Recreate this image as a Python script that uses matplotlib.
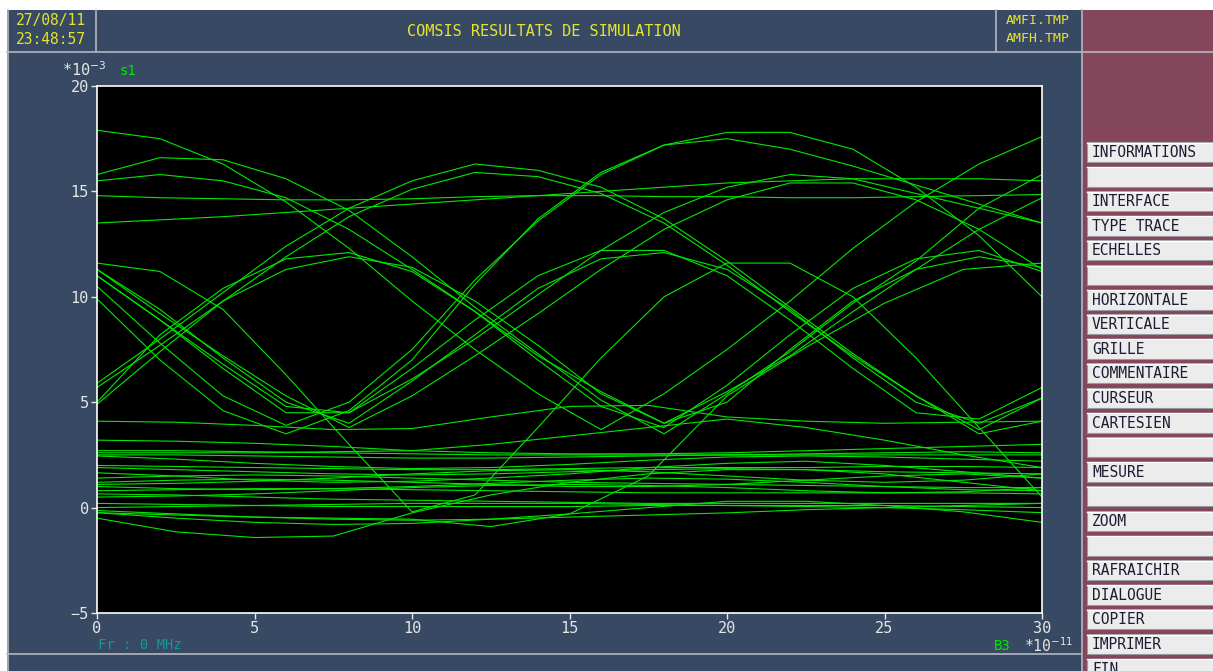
import matplotlib
matplotlib.use("Agg")
import matplotlib.pyplot as plt
import matplotlib.patches as patches

# sample positions (units of 1e-11) for the wide waves and the low bundle
x_wave = [0, 2, 4, 6, 8, 10, 12, 14, 16, 18, 20, 22, 24, 26, 28, 30]
x_flat = [0, 2.5, 5, 7.5, 10, 12.5, 15, 17.5, 20, 22.5, 25, 27.5, 30]

# large swing curves (units of 1e-3)
L1 = [17.9, 17.5, 16.3, 14.5, 12.3, 9.8, 7.5, 5.4, 3.7, 5.4, 7.5, 9.8, 12.3, 14.5, 16.3, 17.6]
L2 = [15.8, 16.6, 16.5, 15.6, 14.1, 11.9, 9.5, 7.3, 5.1, 3.5, 5.4, 7.4, 9.7, 11.7, 14.2, 15.8]
L3 = [15.5, 15.8, 15.5, 14.7, 13.2, 11.3, 9.3, 7.2, 5.5, 4.0, 5.5, 7.2, 9.3, 11.3, 13.2, 14.7]
L4 = [5.9, 8.0, 10.2, 12.4, 14.2, 15.5, 16.3, 16.0, 15.2, 13.7, 11.7, 9.5, 7.3, 5.3, 3.5, 4.1]
L5 = [5.7, 7.7, 9.8, 11.9, 13.8, 15.1, 15.9, 15.7, 14.9, 13.5, 11.5, 9.3, 7.2, 5.3, 3.7, 5.2]
L6 = [10.5, 7.8, 5.3, 3.9, 5.0, 7.5, 10.8, 13.6, 15.8, 17.2, 17.5, 17.0, 16.2, 15.3, 14.4, 13.5]
L7 = [9.9, 7.0, 4.6, 3.5, 4.6, 7.0, 10.6, 13.7, 15.9, 17.2, 17.8, 17.8, 17.0, 15.2, 12.9, 10.0]
L8 = [11.0, 8.9, 6.8, 4.8, 4.5, 6.1, 8.0, 10.1, 12.2, 14.0, 15.2, 15.8, 15.6, 14.9, 14.2, 13.5]
L9 = [11.3, 9.2, 7.2, 5.3, 3.8, 5.3, 7.2, 9.2, 11.3, 13.2, 14.6, 15.4, 15.4, 14.6, 13.2, 11.3]
P4 = [14.8, 14.7, 14.65, 14.6, 14.6, 14.65, 14.75, 14.8, 14.8, 14.75, 14.75, 14.7, 14.7, 14.75, 14.8, 14.85]
P5 = [13.5, 13.65, 13.8, 14.0, 14.2, 14.4, 14.6, 14.8, 15.0, 15.2, 15.4, 15.5, 15.6, 15.6, 15.6, 15.5]

# medium swing curves
M1 = [5.0, 8.2, 10.4, 11.8, 12.1, 11.2, 9.3, 7.0, 4.8, 3.8, 5.8, 8.2, 10.4, 11.8, 12.2, 11.2]
M2 = [4.9, 7.4, 9.8, 11.3, 11.9, 11.4, 9.8, 7.7, 5.4, 4.0, 5.0, 7.5, 9.8, 11.3, 11.9, 11.4]
M3 = [11.0, 8.9, 6.6, 4.5, 4.5, 6.6, 8.9, 11.0, 12.2, 12.2, 11.0, 8.9, 6.6, 4.5, 4.2, 5.7]
M4 = [11.3, 9.4, 7.1, 5.0, 4.0, 6.0, 8.2, 10.4, 11.8, 12.1, 11.3, 9.4, 7.1, 5.0, 4.0, 5.2]
R1 = [11.6, 11.2, 9.4, 6.3, 3.0, -0.2, 0.6, 3.8, 7.1, 10.0, 11.6, 11.6, 10.0, 7.1, 3.8, 0.5]

# low bundle
R2 = [-0.24, -0.35, -0.45, -0.5, -0.55, -0.9, -0.3, 1.5, 5.3, 7.6, 9.7, 11.3, 11.6]
F1 = [4.1, 4.05, 3.9, 3.7, 3.75, 4.3, 4.8, 4.85, 4.3, 4.1, 4.0, 4.05, 4.1]
F2 = [3.2, 3.15, 3.05, 2.9, 2.7, 2.6, 2.55, 2.55, 2.6, 2.7, 2.8, 2.9, 3.0]
F3 = [2.6, 2.6, 2.6, 2.65, 2.7, 3.0, 3.4, 3.8, 4.2, 3.8, 3.2, 2.5, 1.9]
F4 = [2.7, 2.7, 2.65, 2.6, 2.55, 2.5, 2.5, 2.5, 2.5, 2.55, 2.6, 2.65, 2.6]
F5 = [2.5, 2.5, 2.45, 2.4, 2.35, 2.35, 2.4, 2.45, 2.5, 2.5, 2.5, 2.5, 2.5]
F6 = [2.0, 1.95, 1.9, 1.85, 1.8, 1.8, 1.85, 1.9, 1.9, 1.9, 1.95, 1.95, 1.9]
F7 = [1.9, 1.8, 1.7, 1.6, 1.55, 1.6, 1.7, 1.8, 1.85, 1.8, 1.7, 1.65, 1.6]
F8 = [1.65, 1.5, 1.3, 1.2, 1.25, 1.4, 1.6, 1.9, 2.1, 2.2, 2.0, 1.7, 1.4]
F9 = [1.4, 1.5, 1.55, 1.5, 1.4, 1.3, 1.2, 1.15, 1.1, 1.05, 1.0, 0.95, 0.95]
F10 = [1.2, 1.3, 1.35, 1.3, 1.2, 1.1, 1.0, 1.0, 1.1, 1.3, 1.5, 1.6, 1.4]
F11 = [1.0, 0.9, 0.85, 0.9, 1.0, 1.15, 1.3, 1.4, 1.35, 1.2, 1.0, 0.85, 0.8]
F12 = [0.8, 0.85, 0.9, 0.9, 0.85, 0.8, 0.75, 0.7, 0.7, 0.7, 0.7, 0.7, 0.65]
F13 = [0.65, 0.6, 0.5, 0.4, 0.35, 0.3, 0.25, 0.2, 0.2, 0.2, 0.2, 0.2, 0.2]
F14 = [0.2, 0.15, 0.1, 0.05, 0.05, 0.05, 0.05, 0.1, 0.1, 0.1, 0.1, 0.05, 0.0]
F15 = [0.0, 0.05, 0.1, 0.15, 0.2, 0.2, 0.2, 0.15, 0.1, 0.05, 0.0, -0.1, -0.24]
F16 = [-0.14, -0.3, -0.45, -0.55, -0.6, -0.55, -0.45, -0.35, -0.25, -0.1, 0.0, 0.1, 0.2]
F17 = [-0.24, -0.5, -0.7, -0.8, -0.75, -0.55, -0.3, 0.0, 0.3, 0.3, 0.1, -0.2, -0.7]
F18 = [-0.5, -1.15, -1.42, -1.35, -0.25, 0.6, 1.2, 1.6, 1.8, 1.8, 1.6, 1.2, 0.8]
F19 = [2.45, 2.3, 2.1, 1.95, 1.85, 1.9, 2.05, 2.25, 2.4, 2.45, 2.4, 2.3, 2.2]
F20 = [0.5, 0.55, 0.65, 0.8, 0.95, 1.05, 1.1, 1.05, 0.95, 0.8, 0.7, 0.75, 0.95]
F21 = [1.1, 1.15, 1.25, 1.4, 1.6, 1.75, 1.8, 1.7, 1.5, 1.3, 1.2, 1.3, 1.6]

wave_curves = [L1, L2, L3, L4, L5, L6, L7, L8, L9, P4, P5, M1, M2, M3, M4, R1]
flat_curves = [R2, F1, F2, F3, F4, F5, F6, F7, F8, F9, F10, F11, F12, F13, F14,
               F15, F16, F17, F18, F19, F20, F21]

menu_items = ["INFORMATIONS", "", "INTERFACE", "TYPE TRACE", "ECHELLES", "",
              "HORIZONTALE", "VERTICALE", "GRILLE", "COMMENTAIRE", "CURSEUR",
              "CARTESIEN", "", "MESURE", "", "ZOOM", "", "RAFRAICHIR",
              "DIALOGUE", "COPIER", "IMPRIMER", "FIN"]

W, H = 1213, 671
SLATE = "#384a63"
MAROON = "#84465b"
LINE = "#b4b8c0"
YELLOW = "#e4e430"
GREEN = "#00e800"
MONO = "DejaVu Sans Mono"

plt.rcParams["mathtext.fontset"] = "dejavusans"

fig = plt.figure(figsize=(W / 100, H / 100), dpi=100, facecolor="white")

# window chrome drawn in pixel coordinates
ui = fig.add_axes([0, 0, 1, 1])
ui.set_xlim(0, W)
ui.set_ylim(H, 0)
ui.axis("off")

ui.add_patch(patches.Rectangle((7, 10), W - 7, H - 10, facecolor=SLATE, edgecolor="none"))
ui.add_patch(patches.Rectangle((1082, 10), W - 1082, H - 10, facecolor=MAROON, edgecolor="none"))
ui.plot([7, W], [51.5, 51.5], color=LINE, lw=1.2)
ui.plot([7, 1081], [653.5, 653.5], color=LINE, lw=1.2)
ui.plot([7.5, 7.5], [10, H], color=LINE, lw=1.2)
ui.plot([95.5, 95.5], [10, 51], color=LINE, lw=1.2)
ui.plot([995.5, 995.5], [10, 51], color=LINE, lw=1.2)
ui.plot([1081.5, 1081.5], [10, H], color=LINE, lw=1.2)

ui.text(51, 21, "27/08/11", color=YELLOW, family=MONO, fontsize=10.5, ha="center", va="center")
ui.text(51, 39, "23:48:57", color=YELLOW, family=MONO, fontsize=10.5, ha="center", va="center")
ui.text(544, 31, "COMSIS RESULTATS DE SIMULATION", color=YELLOW, family=MONO,
        fontsize=11, ha="center", va="center")
ui.text(1038, 21, "AMFI.TMP", color=YELLOW, family=MONO, fontsize=9.5, ha="center", va="center")
ui.text(1038, 39, "AMFH.TMP", color=YELLOW, family=MONO, fontsize=9.5, ha="center", va="center")

# menu buttons
for i, label in enumerate(menu_items):
    cy = 152 + 24.6 * i
    ui.add_patch(patches.Rectangle((1087, cy - 10), 130, 20, facecolor="#ececec",
                                   edgecolor="#9a9aa0", lw=0.8))
    ui.plot([1087, 1213], [cy - 9.5, cy - 9.5], color="white", lw=1)
    if label:
        ui.text(1092, cy + 0.5, label, color="#1c1c34", family=MONO, fontsize=10.5,
                ha="left", va="center")

ui.text(62, 70, r"*10$^{-3}$", color="#e6e6e6", family=MONO, fontsize=11, ha="left", va="center")
ui.text(120, 71, "s1", color=GREEN, family=MONO, fontsize=10, ha="left", va="center")
ui.text(98, 645, "Fr : 0 MHz", color="#119999", family=MONO, fontsize=10, ha="left", va="center")
ui.text(994, 646, "B3", color=GREEN, family=MONO, fontsize=10, ha="left", va="center")
ui.text(1024, 646, r"*10$^{-11}$", color="#e6e6e6", family=MONO, fontsize=10.5, ha="left", va="center")

# plot area
x0, x1, y0, y1 = 97, 1042, 86, 613
ax = fig.add_axes([x0 / W, 1 - y1 / H, (x1 - x0) / W, (y1 - y0) / H])
ax.set_facecolor("black")

for c in wave_curves:
    ax.plot(x_wave, c, color=GREEN, lw=0.8)
for c in flat_curves:
    ax.plot(x_flat, c, color=GREEN, lw=0.8)

ax.set_xlim(0, 30)
ax.set_ylim(-5, 20)
ax.set_xticks([0, 5, 10, 15, 20, 25, 30])
ax.set_yticks([-5, 0, 5, 10, 15, 20])
for s in ax.spines.values():
    s.set_color("white")
    s.set_linewidth(1.2)
ax.tick_params(colors="#e6e6e6", direction="out", length=4, width=1, labelsize=11, pad=2)
for lab in ax.get_xticklabels() + ax.get_yticklabels():
    lab.set_family(MONO)

fig.savefig("out.png", dpi=100, facecolor=fig.get_facecolor())
